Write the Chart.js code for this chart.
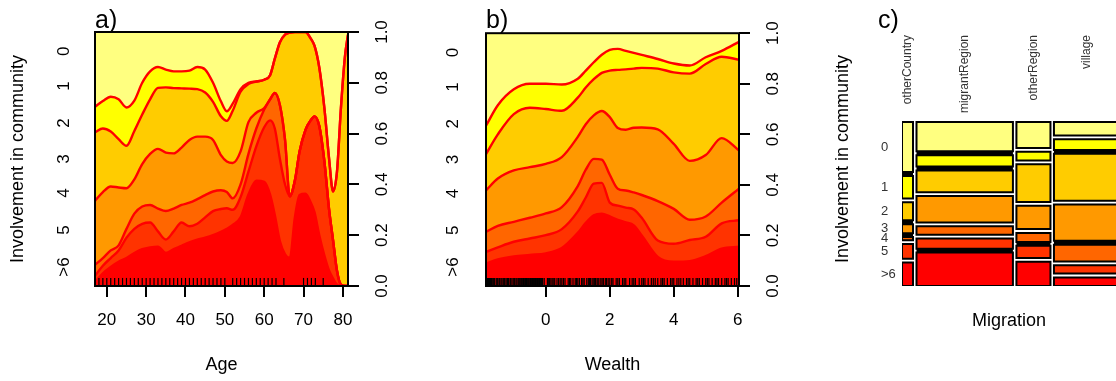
<!DOCTYPE html>
<html>
<head>
<meta charset="utf-8">
<script src="https://cdn.jsdelivr.net/npm/chart.js@4.4.1/dist/chart.umd.min.js"></script>
<style>
  html, body { margin: 0; padding: 0; background: #fff; }
  #wrap { position: relative; width: 1116px; height: 381px; overflow: hidden; }
  canvas { position: absolute; top: 0; }
</style>
</head>
<body>
<div id="wrap">
  <canvas id="age-chart" width="400" height="381" style="left:0px"></canvas>
  <canvas id="wealth-chart" width="400" height="381" style="left:400px"></canvas>
  <canvas id="migration-chart" width="316" height="381" style="left:800px"></canvas>
</div>
<script>
// involvement levels, bottom band first
const involvementLevels = ['>6', '5', '4', '3', '2', '1', '0'];
const heatColours = ['#FF0000', '#FF3300', '#FF6600', '#FF9900', '#FFCC00', '#FFFF00', '#FFFF80'];
// overall share of each level (left labels sit in the middle of each share)
const involvementShare = [0.15, 0.14, 0.152, 0.116, 0.168, 0.122, 0.152];
const propTicks = [0, 0.2, 0.4, 0.6, 0.8, 1];

// a) Age - cumulative upper edge of each band
const ageGrid = [17, 19, 21, 23, 25, 27, 29, 31, 33, 35, 37, 39, 41, 43, 45, 47, 49, 50.5, 52, 54, 56, 58, 60,
  61.5, 62.7, 64, 65.3, 66.5, 67.8, 69, 70.5, 71.8, 72.8, 74, 75.3, 76.5, 77.5, 78.5, 79.5, 80.5, 81.3];
const ageTopGt6 = [.015, .050, .075, .095, .110, .130, .145, .152, .155, .130, .145, .158, .172, .182, .190, .200, .213,
  .225, .240, .270, .360, .415, .410, .360, .280, .176, .125, .110, .270, .358, .363, .330, .290, .200, .120, .060, .030, .005, 0, 0, 0];
const ageTop5 = [.040, .080, .110, .140, .190, .225, .245, .250, .215, .183, .215, .250, .235, .245, .270, .295, .303,
  .306, .300, .350, .450, .550, .625, .652, .620, .500, .400, .353, .415, .530, .615, .652, .668, .630, .490, .300, .180, .060, .005, 0, 0];
const ageTop4 = [.083, .110, .140, .160, .225, .285, .313, .319, .305, .295, .305, .319, .328, .342, .358, .372, .377,
  .370, .345, .400, .520, .620, .695, .735, .760, .712, .575, .353, .415, .530, .615, .652, .668, .630, .490, .300, .180, .060, .005, 0, 0];
const ageTop3 = [.335, .370, .392, .388, .385, .420, .480, .520, .540, .525, .522, .545, .575, .588, .588, .575, .515,
  .490, .484, .530, .645, .682, .700, .735, .760, .712, .575, .353, .415, .530, .615, .652, .668, .630, .490, .300, .180, .060, .005, 0, 0];
const ageTop2 = [.605, .620, .608, .578, .552, .610, .675, .735, .780, .782, .779, .778, .777, .775, .762, .725, .668,
  .650, .690, .765, .795, .805, .812, .830, .895, .960, .990, .998, 1, 1, 1, .975, .945, .860, .700, .500, .372, .450, .700, .900, .990];
const ageTop1 = [.706, .728, .745, .735, .703, .730, .800, .845, .862, .852, .845, .845, .848, .862, .852, .800, .727,
  .688, .718, .775, .800, .805, .812, .830, .895, .960, .990, .998, 1, 1, 1, .975, .945, .860, .700, .500, .372, .450, .700, .900, .990];
const ageRug = [17, 18, 19, 20, 21, 22, 23, 24, 25, 26, 27, 28, 29, 30, 31, 32, 33, 34, 35, 36, 37, 38, 39, 40,
  41, 42, 43, 44, 45, 46, 47, 48, 49, 50, 52, 53, 54, 55, 56, 57, 58, 59, 60, 61, 62, 63, 65, 70, 71, 72, 73, 75];
const ageTicks = [20, 30, 40, 50, 60, 70, 80];

// b) Wealth - cumulative upper edge of each band
const wealthGrid = [-1.87, -1.5, -1.0, -0.5, 0, 0.5, 1.0, 1.25, 1.5, 1.75, 2.0, 2.25, 2.5, 2.75, 3.0, 3.5, 4.0, 4.5, 5.0, 5.5, 6.04];
const wealthTopGt6 = [.089, .105, .117, .123, .129, .150, .210, .250, .280, .286, .275, .262, .252, .240, .200, .115, .096, .098, .118, .148, .155];
const wealthTop5 = [.135, .153, .175, .188, .201, .225, .295, .350, .405, .408, .330, .318, .310, .303, .270, .180, .167, .182, .195, .248, .260];
const wealthTop4 = [.214, .238, .254, .270, .287, .312, .395, .460, .503, .500, .440, .385, .378, .370, .360, .336, .305, .262, .275, .330, .385];
const wealthTop3 = [.378, .425, .457, .470, .483, .510, .590, .640, .675, .692, .668, .625, .618, .626, .627, .620, .562, .495, .518, .585, .536];
const wealthTop2 = [.522, .600, .680, .705, .700, .693, .745, .785, .818, .843, .852, .855, .857, .860, .863, .860, .845, .840, .878, .907, .895];
const wealthTop1 = [.634, .715, .778, .800, .800, .797, .820, .852, .885, .915, .934, .938, .930, .922, .914, .898, .880, .872, .905, .930, .966];
const wealthRug = [-1.85, -1.82, -1.79, -1.76, -1.73, -1.7, -1.66, -1.63, -1.6, -1.55, -1.52, -1.5, -1.46, -1.44, -1.4,
  -1.37, -1.33, -1.3, -1.28, -1.24, -1.2, -1.17, -1.15, -1.1, -1.06, -1.02, -0.99, -0.97, -0.93, -0.9, -0.86, -0.83,
  -0.8, -0.77, -0.75, -0.72, -0.7, -0.66, -0.64, -0.62, -0.6, -0.58, -0.55, -0.53, -0.5, -0.48, -0.46, -0.44, -0.42,
  -0.4, -0.38, -0.36, -0.34, -0.32, -0.3, -0.28, -0.26, -0.24, -0.22, -0.2, -0.18, -0.16, -0.14, -0.12, -0.1, -0.05,
  0.05, 0.09, 0.12, 0.16, 0.2, 0.25, 0.28, 0.35, 0.4, 0.45, 0.5, 0.55, 0.6, 0.7, 0.74, 0.78, 0.85, 0.92, 0.96, 1.0,
  1.05, 1.12, 1.16, 1.2, 1.28, 1.33, 1.37, 1.4, 1.45, 1.5, 1.53, 1.55, 1.6, 1.63, 1.66, 1.72, 1.76, 1.8, 1.86, 1.9,
  1.95, 2.0, 2.06, 2.1, 2.2, 2.25, 2.3, 2.4, 2.45, 2.5, 2.62, 2.7, 2.75, 2.8, 2.92, 3.0, 3.05, 3.1, 3.2, 3.3, 3.36,
  3.42, 3.5, 3.6, 3.65, 3.7, 3.8, 3.9, 3.95, 4.0, 4.1, 4.16, 4.22, 4.3, 4.4, 4.45, 4.5, 4.6, 4.7, 4.75, 4.8, 4.9,
  5.0, 5.05, 5.1, 5.2, 5.3, 5.35, 5.4, 5.5, 5.6, 5.65, 5.7, 5.8, 5.9, 5.97];
const wealthTicks = [0, 2, 4, 6];

// c) Migration mosaic, cells listed top (0) to bottom (>6), percent of column
const mosaicLevels = ['0', '1', '2', '3', '4', '5', '>6'];
const migrationLevels = ['otherCountry', 'migrantRegion', 'otherRegion', 'village'];
const migrationShare = [5.33, 46.68, 16.48, 31.51];
const otherCountryCells = [35.5, 16.0, 12.8, 6.4, 2.3, 10.4, 16.6];
const migrantRegionCells = [20.8, 8.1, 15.5, 18.7, 5.9, 7.3, 23.7];
const otherRegionCells = [18.4, 6.2, 26.6, 16.6, 6.4, 8.6, 17.2];
const villageCells = [9.5, 7.6, 33.3, 25.7, 11.9, 5.9, 6.1];
// which gaps between neighbouring cells show up dark
const otherCountryDark = [1, 0, 1, 1, 0, 0];
const migrantRegionDark = [1, 1, 0, 0, 0, 1];
const otherRegionDark = [0, 0, 0, 0, 1, 0];
const villageDark = [0, 1, 0, 1, 0, 0];

Chart.defaults.font.family = '"Liberation Sans", Arial, Helvetica, sans-serif';
Chart.defaults.color = '#000';
Chart.defaults.animation = false;

const frame = {
    id: 'frame',
    afterDatasetsDraw(chart) {
        const { ctx, chartArea: a } = chart;
        ctx.save();
        ctx.strokeStyle = '#000';
        ctx.lineWidth = 2;
        ctx.strokeRect(a.left, a.top, a.right - a.left, a.bottom - a.top);
        ctx.restore();
    }
};

const panelLabel = {
    id: 'panelLabel',
    afterDraw(chart, args, opts) {
        const { ctx, chartArea } = chart;
        ctx.save();
        ctx.font = '25px "Liberation Sans", Arial, sans-serif';
        ctx.fillStyle = '#000';
        ctx.textBaseline = 'alphabetic';
        ctx.fillText(opts.text, chartArea.left + opts.dx, 28);
        ctx.restore();
    }
};

function levelMids() {
    const mids = [];
    let acc = 0;
    involvementShare.forEach(s => { mids.push(acc + s / 2); acc += s; });
    return mids;
}

function createDensityChart(id, cfg) {
    const ctx = document.getElementById(id).getContext('2d');
    const points = ys => cfg.grid.map((x, i) => ({ x: x, y: ys[i] }));
    const mids = levelMids();

    const datasets = cfg.bounds.map((ys, i) => ({
        data: points(ys),
        backgroundColor: heatColours[i],
        borderColor: '#FF0000',
        borderWidth: 2.4,
        fill: i === 0 ? 'origin' : '-1',
        pointRadius: 0,
        cubicInterpolationMode: 'monotone'
    }));
    // band "0" fills from the last edge up to 1
    datasets.push({
        data: points(cfg.bounds[cfg.bounds.length - 1]),
        backgroundColor: heatColours[6],
        borderWidth: 0,
        fill: 'end',
        pointRadius: 0,
        cubicInterpolationMode: 'monotone'
    });
    // rug of observations
    datasets.push({
        data: cfg.rug.map(x => ({ x: x, y: 0.016 })),
        showLine: false,
        pointStyle: 'line',
        pointRotation: 90,
        pointRadius: 4,
        pointBorderColor: '#000',
        pointBorderWidth: 1.2,
        order: -1
    });

    return new Chart(ctx, {
        type: 'line',
        data: { datasets: datasets },
        options: {
            responsive: false,
            events: [],
            layout: { padding: { top: 32 } },
            plugins: {
                legend: { display: false },
                tooltip: { enabled: false },
                filler: { drawTime: 'beforeDatasetsDraw' },
                panelLabel: { text: cfg.label, dx: 0 }
            },
            scales: {
                x: {
                    type: 'linear',
                    min: cfg.xMin,
                    max: cfg.xMax,
                    afterBuildTicks: s => { s.ticks = cfg.xTicks.map(v => ({ value: v })); },
                    afterFit: s => { s.height = 95; },
                    ticks: { font: { size: 17 }, padding: 13, maxRotation: 0, autoSkip: false, callback: v => v },
                    grid: { drawOnChartArea: false, tickLength: 11, color: '#000', lineWidth: 2 },
                    border: { display: false },
                    title: { display: true, text: cfg.xTitle, font: { size: 18 }, padding: { top: 0, bottom: 5 } }
                },
                y: {
                    type: 'linear',
                    position: 'right',
                    min: 0,
                    max: 1,
                    afterBuildTicks: s => { s.ticks = propTicks.map(v => ({ value: v })); },
                    afterFit: s => { s.width = cfg.rightWidth; },
                    ticks: { font: { size: 17 }, padding: 11, minRotation: 90, maxRotation: 90, crossAlign: 'center',
                             callback: v => v.toFixed(1) },
                    grid: { drawOnChartArea: false, tickLength: 11, color: '#000', lineWidth: 2 },
                    border: { display: false }
                },
                yLab: {
                    type: 'linear',
                    position: 'left',
                    min: 0,
                    max: 1,
                    afterBuildTicks: s => { s.ticks = mids.map(v => ({ value: v })); },
                    afterFit: s => { s.width = cfg.leftWidth; },
                    ticks: { font: { size: 17 }, padding: cfg.labelPad, minRotation: 90, maxRotation: 90, crossAlign: 'center',
                             callback: (v, i) => involvementLevels[i] },
                    grid: { display: false, drawTicks: false },
                    border: { display: false },
                    title: { display: cfg.yTitle, text: 'Involvement in community', font: { size: 18 }, padding: { top: 7.5, bottom: 0 } }
                }
            }
        },
        plugins: [frame, panelLabel]
    });
}

function rectDataset(x0, x1, y0, y1, colour, bw) {
    return {
        data: [{ x: x0, y: y0 }, { x: x1, y: y0 }, { x: x1, y: y1 }, { x: x0, y: y1 }, { x: x0, y: y0 }],
        showLine: true,
        fill: 'shape',
        backgroundColor: colour,
        borderColor: '#000',
        borderWidth: bw,
        borderJoinStyle: 'miter',
        borderCapStyle: 'square',
        pointRadius: 0,
        tension: 0
    };
}

function createMosaicChart() {
    const ctx = document.getElementById('migration-chart').getContext('2d');
    const columns = [otherCountryCells, migrantRegionCells, otherRegionCells, villageCells];
    const darkGaps = [otherCountryDark, migrantRegionDark, otherRegionDark, villageDark];
    const colours = heatColours.slice().reverse();
    const xGap = 1.61, yGap = 2.33, mosaicTop = 100;
    const xSpan = 100 - xGap * (columns.length - 1);
    const ySpan = mosaicTop - yGap * (mosaicLevels.length - 1);

    const datasets = [];
    const centres = [];
    let firstMids = [];
    let x0 = 0;
    columns.forEach((cells, c) => {
        const x1 = x0 + migrationShare[c] / 100 * xSpan;
        centres.push((x0 + x1) / 2);
        let top = mosaicTop;
        const mids = [];
        cells.forEach((pct, k) => {
            const bottom = top - pct / 100 * ySpan;
            datasets.push(rectDataset(x0, x1, bottom, top, colours[k], 2));
            mids.push((top + bottom) / 2);
            if (k < cells.length - 1) {
                if (darkGaps[c][k]) {
                    datasets.push(rectDataset(x0, x1, bottom - yGap, bottom, '#000', 0));
                }
                top = bottom - yGap;
            }
        });
        if (c === 0) firstMids = mids;
        x0 = x1 + xGap;
    });
    const tickVals = firstMids.slice().reverse();
    const tickText = mosaicLevels.slice().reverse();

    const columnLabels = {
        id: 'columnLabels',
        afterDraw(chart) {
            const c2 = chart.ctx;
            const xs = chart.scales.x;
            c2.save();
            c2.font = '12px "Liberation Sans", Arial, sans-serif';
            c2.fillStyle = '#333';
            c2.textAlign = 'right';
            c2.textBaseline = 'middle';
            centres.forEach((v, i) => {
                c2.save();
                c2.translate(xs.getPixelForValue(v), 35);
                c2.rotate(-Math.PI / 2);
                c2.fillText(migrationLevels[i], 0, 0);
                c2.restore();
            });
            c2.restore();
        }
    };

    return new Chart(ctx, {
        type: 'scatter',
        data: { datasets: datasets },
        options: {
            responsive: false,
            events: [],
            layout: { padding: { top: 32 } },
            plugins: {
                legend: { display: false },
                tooltip: { enabled: false },
                panelLabel: { text: 'c)', dx: -24 }
            },
            scales: {
                x: {
                    type: 'linear',
                    min: 0,
                    max: 98.6,   // the figure is cut off at the right edge
                    afterFit: s => { s.height = 95; },
                    ticks: { display: false },
                    grid: { display: false, drawTicks: false },
                    border: { display: false },
                    title: { display: true, text: 'Migration', font: { size: 18 }, padding: { top: 0, bottom: 49 } }
                },
                y: {
                    type: 'linear',
                    position: 'left',
                    min: 0,
                    max: 154.9,
                    afterBuildTicks: s => { s.ticks = tickVals.map(v => ({ value: v })); },
                    afterFit: s => { s.width = 21; },
                    ticks: { font: { size: 13 }, color: '#333', padding: 0, crossAlign: 'far',
                             callback: (v, i) => tickText[i] },
                    grid: { display: false, drawTicks: false },
                    border: { display: false }
                },
                yTitle: {
                    type: 'linear',
                    position: 'left',
                    weight: 10,
                    min: 0,
                    max: 1,
                    afterFit: s => { s.width = 81; },
                    ticks: { display: false },
                    grid: { display: false, drawTicks: false },
                    border: { display: false },
                    title: { display: true, text: 'Involvement in community', font: { size: 18 }, padding: { top: 32, bottom: 0 } }
                }
            }
        },
        plugins: [panelLabel, columnLabels]
    });
}

createDensityChart('age-chart', {
    label: 'a)',
    grid: ageGrid,
    bounds: [ageTopGt6, ageTop5, ageTop4, ageTop3, ageTop2, ageTop1],
    rug: ageRug,
    xTicks: ageTicks,
    xMin: 17.0,
    xMax: 81.3,
    xTitle: 'Age',
    leftWidth: 95,
    rightWidth: 52,
    labelPad: 21,
    yTitle: true
});

createDensityChart('wealth-chart', {
    label: 'b)',
    grid: wealthGrid,
    bounds: [wealthTopGt6, wealthTop5, wealthTop4, wealthTop3, wealthTop2, wealthTop1],
    rug: wealthRug,
    xTicks: wealthTicks,
    xMin: -1.87,
    xMax: 6.04,
    xTitle: 'Wealth',
    leftWidth: 86,
    rightWidth: 61,
    labelPad: 23,
    yTitle: false
});

createMosaicChart();
</script>
</body>
</html>
